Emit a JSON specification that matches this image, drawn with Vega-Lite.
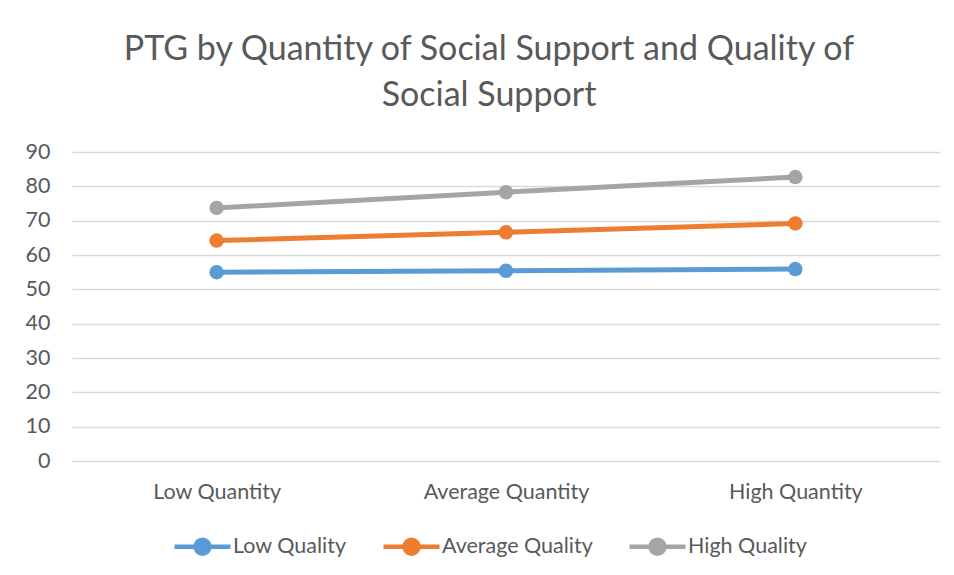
{
  "$schema": "https://vega.github.io/schema/vega-lite/v6.json",
  "width": 868,
  "height": 309,
  "autosize": {"type": "none"},
  "padding": {"left": 72, "top": 152, "right": 14, "bottom": 114},
  "background": "white",
  "title": {
    "text": ["PTG by Quantity of Social Support and Quality of", "Social Support"],
    "font": "Lato",
    "fontSize": 34,
    "fontWeight": "normal",
    "color": "#595959",
    "lineHeight": 46,
    "anchor": "middle",
    "dx": -17,
    "offset": 28
  },
  "data": {
    "values": [
      {"quantity": "Low Quantity", "quality": "Low Quality", "ptg": 55.0},
      {"quantity": "Average Quantity", "quality": "Low Quality", "ptg": 55.4},
      {"quantity": "High Quantity", "quality": "Low Quality", "ptg": 55.9},
      {"quantity": "Low Quantity", "quality": "Average Quality", "ptg": 64.2},
      {"quantity": "Average Quantity", "quality": "Average Quality", "ptg": 66.6},
      {"quantity": "High Quantity", "quality": "Average Quality", "ptg": 69.2},
      {"quantity": "Low Quantity", "quality": "High Quality", "ptg": 73.7},
      {"quantity": "Average Quantity", "quality": "High Quality", "ptg": 78.3},
      {"quantity": "High Quantity", "quality": "High Quality", "ptg": 82.7}
    ]
  },
  "encoding": {
    "x": {
      "field": "quantity",
      "type": "nominal",
      "sort": ["Low Quantity", "Average Quantity", "High Quantity"],
      "scale": {"type": "point", "padding": 0.5},
      "axis": {
        "title": null,
        "labelAngle": 0,
        "labelFont": "Lato",
        "labelFontSize": 21.5,
        "labelColor": "#595959",
        "labelPadding": 20,
        "ticks": false,
        "domain": false,
        "grid": false
      }
    },
    "y": {
      "field": "ptg",
      "type": "quantitative",
      "scale": {"domain": [0, 90]},
      "axis": {
        "title": null,
        "values": [0, 10, 20, 30, 40, 50, 60, 70, 80, 90],
        "labelFont": "Lato",
        "labelFontSize": 21.5,
        "labelColor": "#595959",
        "labelPadding": 22,
        "ticks": false,
        "domain": false,
        "grid": true,
        "gridColor": "#D9D9D9",
        "gridWidth": 1.3
      }
    },
    "color": {
      "field": "quality",
      "type": "nominal",
      "scale": {
        "domain": ["Low Quality", "Average Quality", "High Quality"],
        "range": ["#5B9BD5", "#ED7D31", "#A5A5A5"]
      },
      "legend": {
        "title": null,
        "orient": "none",
        "legendX": 100,
        "legendY": 364,
        "direction": "horizontal",
        "symbolType": "M-1,0L1,0M-0.25,0A0.25,0.25,0,1,1,0.25,0A0.25,0.25,0,1,1,-0.25,0",
        "symbolSize": 3136,
        "symbolStrokeWidth": 4.5,
        "labelFont": "Lato",
        "labelFontSize": 21.5,
        "labelColor": "#595959",
        "labelOffset": 0,
        "columnPadding": 27
      }
    }
  },
  "layer": [
    {"mark": {"type": "line", "strokeWidth": 5}},
    {"mark": {"type": "point", "filled": true, "opacity": 1, "size": 210}}
  ],
  "config": {"view": {"stroke": null}}
}
